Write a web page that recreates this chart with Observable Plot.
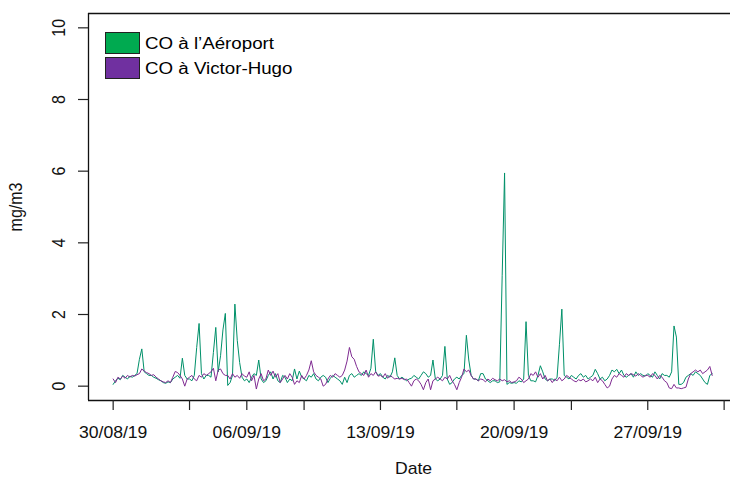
<!DOCTYPE html>
<html>
<head>
<meta charset="utf-8">
<script src="https://cdn.jsdelivr.net/npm/d3@7"></script>
<script src="https://cdn.jsdelivr.net/npm/@observablehq/plot@0.6"></script>
<style>
  body { margin: 0; background: #fff; overflow: hidden; }
  #wrap { position: relative; width: 730px; height: 480px; overflow: hidden; background: #fff; }
  #legend { position: absolute; left: 105px; top: 32px; font-family: "Liberation Sans", Arial, sans-serif; font-size: 16px; color: #000; }
  .row { position: relative; height: 25px; }
  .sw { position: absolute; left: 0; top: 0; width: 33px; height: 20px; border: 1px solid #222; }
  .lab { position: absolute; left: 40px; top: 4px; white-space: nowrap; transform: scaleX(1.17); transform-origin: 0 0; line-height: 16px; }
</style>
</head>
<body>
<div id="wrap"></div>
<script>
// ---- data (3-hourly readings from 30/08/2019 00:00) ----
const startDate = "2019-08-30T00:00:00Z";
const stepHours = 3;
const seriesNames = ["CO à l’Aéroport", "CO à Victor-Hugo"];
const lineColors = ["#009069", "#7F2B92"];
const legendColors = ["#00AA50", "#7030A0"];

const aeroport = [
  0.05,0.15,0.22,0.18,0.3,0.25,0.2,0.28,
  0.25,0.3,0.35,0.75,1.04,0.4,0.35,0.3,
  0.3,0.25,0.22,0.18,0.15,0.1,0.08,0.12,
  0.1,0.2,0.25,0.3,0.22,0.78,0.3,0.2,
  0.2,0.15,0.3,1.08,1.75,0.35,0.2,0.3,
  0.3,0.25,0.94,1.64,0.4,0.85,1.57,2.03,
  0.02,0.1,0.3,2.29,1.28,0.66,0.25,0.15,
  0.2,0.1,0.25,0.35,0.3,0.73,0.2,0.1,
  0.15,0.3,0.4,0.2,0.35,0.15,0.1,0.3,
  0.25,0.1,0.2,0.15,0.48,0.2,0.42,0.25,
  0.2,0.15,0.3,0.25,0.35,0.2,0.15,0.25,
  0.3,0.25,0.1,0.22,0.3,0.25,0.2,0.15,
  0.05,0.25,0.1,0.3,0.35,0.25,0.3,0.35,
  0.3,0.4,0.35,0.3,0.5,1.31,0.4,0.3,
  0.35,0.25,0.2,0.3,0.25,0.4,0.79,0.3,
  0.2,0.25,0.2,0.15,0.2,0.22,0.3,0.25,
  0.2,0.3,0.4,0.35,0.25,0.3,0.73,0.2,
  0.15,0.2,0.3,1.11,0.2,0.05,0.1,0.2,
  0.25,0.2,0.3,0.35,1.42,0.73,0.3,0.2,
  0.2,0.15,0.35,0.35,0.2,0.15,0.1,0.15,
  0.15,0.1,0.12,3.08,5.95,0.05,0.1,0.08,
  0.1,0.08,0.15,0.12,0.2,1.8,0.3,0.15,
  0.15,0.12,0.3,0.57,0.4,0.2,0.15,0.2,
  0.2,0.15,0.25,1.17,2.15,0.3,0.25,0.2,
  0.3,0.25,0.2,0.3,0.35,0.25,0.3,0.2,
  0.25,0.3,0.47,0.35,0.2,0.25,0.15,0.2,
  0.3,0.45,0.4,0.47,0.35,0.45,0.3,0.25,
  0.3,0.35,0.25,0.4,0.3,0.35,0.3,0.28,
  0.35,0.3,0.25,0.4,0.3,0.2,0.35,0.3,
  0.3,0.25,0.4,1.68,1.37,0.05,0.05,0.1,
  0.25,0.3,0.35,0.3,0.4,0.35,0.3,0.2,
  0.1,0.05,0.3,0.35
];

const victorHugo = [
  0.2,0.1,0.25,0.2,0.28,0.22,0.3,0.25,
  0.3,0.28,0.32,0.35,0.48,0.42,0.38,0.35,
  0.3,0.32,0.25,0.2,0.15,0.12,0.1,0.15,
  0.1,0.25,0.41,0.38,0.3,0.2,0.0,0.2,
  0.25,0.3,0.2,0.15,0.3,0.25,0.35,0.3,
  0.35,0.4,0.5,0.15,0.45,0.48,0.35,0.3,
  0.3,0.2,0.35,0.25,0.3,0.22,0.35,0.28,
  0.25,0.4,0.15,0.3,-0.08,0.2,0.35,0.15,
  0.2,0.45,0.3,0.42,0.25,0.35,0.1,0.2,
  0.3,0.2,0.35,0.25,0.05,0.15,0.1,0.3,
  0.2,0.3,0.45,0.71,0.4,0.3,0.25,0.2,
  0.0,0.05,0.2,0.3,0.25,0.35,0.3,0.25,
  0.3,0.45,0.7,1.08,0.82,0.75,0.55,0.4,
  0.35,0.3,0.45,0.25,0.35,0.3,0.4,0.28,
  0.3,0.25,0.35,0.22,0.3,0.25,0.2,0.22,
  0.2,0.22,0.18,0.2,0.1,0.0,0.15,0.2,
  0.15,0.05,-0.1,0.1,0.2,-0.1,0.15,0.2,
  0.25,0.2,0.15,0.25,0.2,0.3,0.15,0.05,
  -0.1,0.1,0.25,0.48,0.4,0.45,0.3,0.2,
  0.2,0.15,0.2,0.18,0.12,0.2,0.15,0.22,
  0.18,0.15,0.2,0.15,0.18,0.12,0.15,0.1,
  0.12,0.15,0.25,0.2,0.1,0.15,0.2,0.35,
  0.3,0.4,0.25,0.35,0.2,0.3,0.15,0.2,
  0.1,0.2,0.15,0.25,0.15,0.2,0.3,0.25,
  0.2,0.15,0.12,0.18,0.15,0.2,0.12,0.15,
  0.2,0.15,0.25,0.1,0.2,0.15,0.05,-0.05,
  0.0,0.2,0.3,0.25,0.35,0.3,0.25,0.35,
  0.3,0.35,0.32,0.28,0.35,0.3,0.25,0.3,
  0.3,0.25,0.35,0.3,0.2,0.3,0.25,0.15,
  0.1,-0.05,-0.07,0.05,-0.05,-0.05,-0.07,-0.05,
  -0.03,0.2,0.35,0.4,0.45,0.4,0.45,0.35,
  0.4,0.45,0.55,0.3
];

const tickDates = ["2019-08-30","2019-09-03","2019-09-06","2019-09-09","2019-09-13",
                   "2019-09-17","2019-09-20","2019-09-23","2019-09-27","2019-10-01"];
const tickLabels = ["30/08/19","","06/09/19","","13/09/19","","20/09/19","","27/09/19",""];
const yTicks = [0, 2, 4, 6, 8, 10];
const yDomain = [-0.4, 10.4];
const xPadHours = [-30.8, 798.7];   // R-style 4% extension of the date range

// ---- build ----
const t0 = new Date(startDate);
const toRows = (arr, name) => arr.map((v, i) => ({date: d3.utcHour.offset(t0, i * stepHours), value: v, series: name}));
const rowsA = toRows(aeroport, seriesNames[0]);
const rowsV = toRows(victorHugo, seriesNames[1]);
const ticks = tickDates.map(s => new Date(s + "T00:00:00Z"));
const labelMap = new Map(ticks.map((d, i) => [+d, tickLabels[i]]));
const xDomain = [d3.utcHour.offset(t0, xPadHours[0]), d3.utcHour.offset(t0, xPadHours[1])];

const FONT = "Liberation Sans, Arial, sans-serif";
const SX = 1.1;

const chart = Plot.plot({
  width: 730,
  height: 480,
  marginLeft: 88,
  marginRight: 0,
  marginTop: 13,
  marginBottom: 80,
  style: {fontFamily: FONT, fontSize: "16px", background: "#fff", color: "#000", overflow: "visible"},
  x: {type: "utc", domain: xDomain, range: [88, 747.5]},
  y: {domain: yDomain, range: [400, 13]},
  marks: [
    Plot.lineY(rowsA, {x: "date", y: "value", stroke: lineColors[0], strokeWidth: 1}),
    Plot.lineY(rowsV, {x: "date", y: "value", stroke: lineColors[1], strokeWidth: 1}),
    // box (left, top, bottom; right side lies beyond the picture)
    Plot.ruleX([xDomain[0]], {stroke: "#111", strokeWidth: 1.3}),
    Plot.ruleY([yDomain[1]], {stroke: "#111", strokeWidth: 1.3}),
    Plot.ruleY([yDomain[0]], {stroke: "#111", strokeWidth: 1.3}),
    Plot.axisX({ticks: ticks, tickFormat: d => labelMap.get(+d) ?? "", tickSize: 10, tickPadding: 16,
                label: null, stroke: "#222", strokeWidth: 1.2, fontSize: 16, fill: "#111"}),
    Plot.axisY({ticks: yTicks, tickSize: 10, tickFormat: () => "", label: null, stroke: "#222", strokeWidth: 1.2}),
    Plot.text(yTicks, {y: d => d, text: d => String(d), frameAnchor: "left", dx: -24, rotate: -90,
                       textAnchor: "middle", lineAnchor: "bottom", fontSize: 16, fill: "#111"}),
    Plot.text(["mg/m3"], {frameAnchor: "left", dx: -67, rotate: -90, textAnchor: "middle",
                          lineAnchor: "bottom", fontSize: 16, fill: "#111"}),
    Plot.text(["Date"], {frameAnchor: "bottom", dx: 4, dy: 62, lineAnchor: "top", fontSize: 16, fill: "#111"})
  ]
});

// stretch text horizontally like the reference raster
chart.querySelectorAll("text").forEach(t => {
  const tr = t.getAttribute("transform");
  if (tr && /^translate\([^)]*\)/.test(tr)) {
    t.setAttribute("transform", tr.replace(/^(translate\([^)]*\))/, `$1 scale(${SX},1)`));
  } else {
    const x = parseFloat(t.getAttribute("x")) || 0;
    t.setAttribute("transform", `${tr || ""} translate(${x},0) scale(${SX},1) translate(${-x},0)`);
  }
});

const wrap = document.getElementById("wrap");
wrap.appendChild(chart);

// legend
const legend = document.createElement("div");
legend.id = "legend";
seriesNames.forEach((name, i) => {
  const row = document.createElement("div");
  row.className = "row";
  const sw = document.createElement("div");
  sw.className = "sw";
  sw.style.background = legendColors[i];
  const lab = document.createElement("div");
  lab.className = "lab";
  lab.textContent = name;
  row.appendChild(sw);
  row.appendChild(lab);
  legend.appendChild(row);
});
wrap.appendChild(legend);
</script>
</body>
</html>
